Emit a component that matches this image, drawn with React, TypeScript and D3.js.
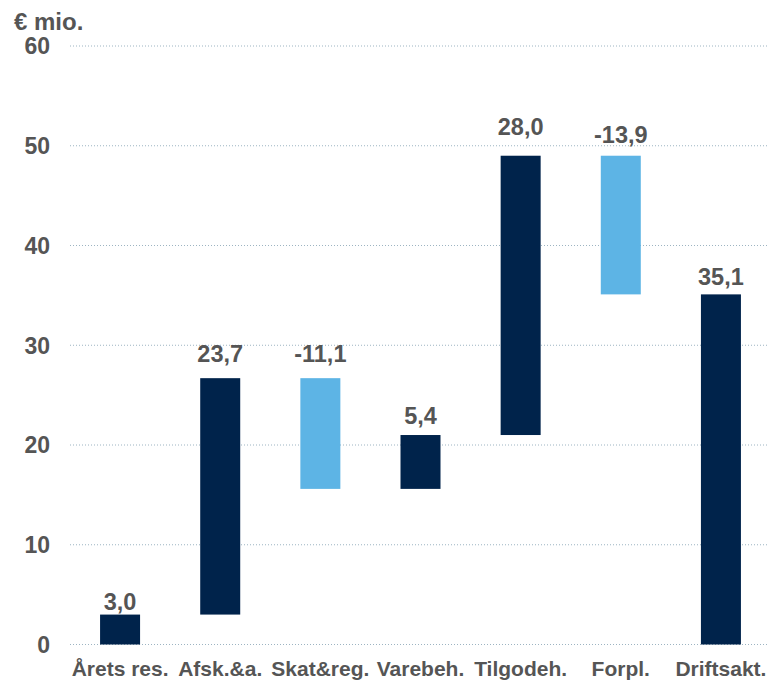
import React from "react";
import * as d3 from "d3";

const categories = ["Årets res.", "Afsk.&a.", "Skat&reg.", "Varebeh.", "Tilgodeh.", "Forpl.", "Driftsakt."];
const changes = [3.0, 23.7, -11.1, 5.4, 28.0, -13.9, 35.1];
const isTotal = [false, false, false, false, false, false, true];
const valueLabels = ["3,0", "23,7", "-11,1", "5,4", "28,0", "-13,9", "35,1"];
const labelAt = [3.45, 28.3, 28.3, 22.1, 51.1, 50.3, 36.0];
const yTicks = [0, 10, 20, 30, 40, 50, 60];

const W = 768;
const H = 680;
const DARK = "#00234b";
const LIGHT = "#5db4e5";
const TEXT = "#555555";
const FONT = "'Liberation Sans', Arial, sans-serif";

export default function App() {
  const x = d3.scaleBand<string>().domain(categories).range([70, 771]).paddingInner(0.6).paddingOuter(0.3);
  const y = d3.scaleLinear().domain([0, 60]).range([644.5, 46]);

  let run = 0;
  const bars = categories.map((c, i) => {
    let lo: number, hi: number;
    if (isTotal[i]) {
      lo = 0;
      hi = changes[i];
      run = changes[i];
    } else {
      const start = run;
      const end = run + changes[i];
      lo = Math.min(start, end);
      hi = Math.max(start, end);
      run = end;
    }
    return { c, lo, hi, neg: changes[i] < 0, i };
  });

  const bw = 40;
  const cx = (c: string) => (x(c) as number) + x.bandwidth() / 2;

  return (
    <svg width={W} height={H} style={{ position: "absolute", left: 0, top: 0, background: "#fff" }} fontFamily={FONT} fontWeight="bold">
      <rect x={0} y={0} width={W} height={H} fill="#fff" />
      {yTicks.map((t) => (
        <g key={t}>
          <line x1={70} x2={768} y1={y(t)} y2={y(t)} stroke="#9db4c2" strokeWidth={1} strokeDasharray="1 2" />
          <text x={50} y={y(t)} dy="0.36em" textAnchor="end" fontSize={23} fill={TEXT}>
            {t}
          </text>
        </g>
      ))}
      <text x={14} y={30} fontSize={24} fill={TEXT}>€ mio.</text>
      {bars.map((b) => (
        <rect
          key={b.c}
          x={cx(b.c) - bw / 2}
          width={bw}
          y={y(b.hi)}
          height={y(b.lo) - y(b.hi)}
          fill={b.neg ? LIGHT : DARK}
        />
      ))}
      {bars.map((b) => (
        <text key={"v" + b.c} x={cx(b.c)} y={y(labelAt[b.i])} textAnchor="middle" fontSize={23.5} fill={TEXT}>
          {valueLabels[b.i]}
        </text>
      ))}
      {categories.map((c) => (
        <text key={"c" + c} x={cx(c)} y={676} textAnchor="middle" fontSize={21} fill={TEXT}>
          {c}
        </text>
      ))}
    </svg>
  );
}
